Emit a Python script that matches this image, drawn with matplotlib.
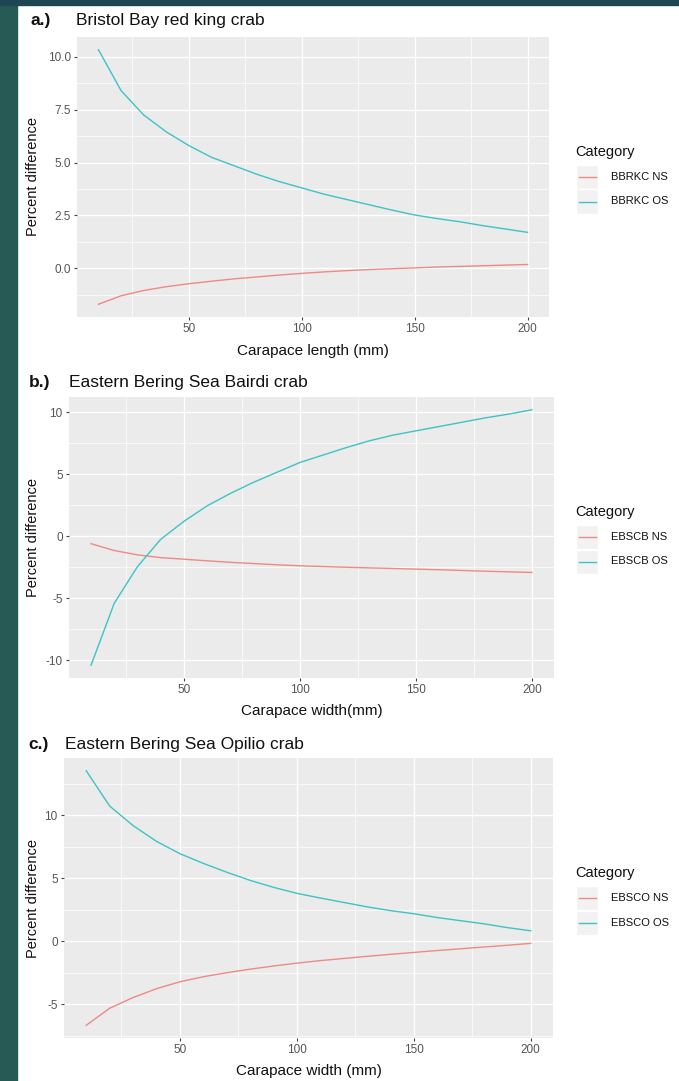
import matplotlib.pyplot as plt
import matplotlib.patches as mp
from matplotlib.lines import Line2D
import numpy as np

plt.rcParams['font.family'] = ['Liberation Sans', 'DejaVu Sans']

# carapace size (mm)
size = [10, 20, 30, 40, 50, 60, 70, 80, 90, 100, 110, 120, 130, 140, 150, 160, 170, 180, 190, 200]

# a.) Bristol Bay red king crab
bbrkc_ns = [-1.7, -1.3, -1.05, -0.87, -0.73, -0.61, -0.5, -0.41, -0.32, -0.24, -0.17, -0.11, -0.06, -0.02, 0.02, 0.06, 0.09, 0.12, 0.15, 0.18]
bbrkc_os = [10.33, 8.4, 7.25, 6.45, 5.8, 5.25, 4.85, 4.45, 4.1, 3.8, 3.5, 3.25, 3.0, 2.75, 2.52, 2.35, 2.2, 2.02, 1.86, 1.7]

# b.) Eastern Bering Sea Bairdi crab
ebscb_ns = [-0.6, -1.15, -1.5, -1.72, -1.85, -1.98, -2.1, -2.2, -2.3, -2.38, -2.44, -2.5, -2.55, -2.6, -2.65, -2.7, -2.76, -2.82, -2.87, -2.92]
ebscb_os = [-10.4, -5.4, -2.45, -0.25, 1.2, 2.45, 3.45, 4.35, 5.15, 5.95, 6.55, 7.15, 7.7, 8.15, 8.5, 8.85, 9.2, 9.55, 9.85, 10.2]

# c.) Eastern Bering Sea Opilio crab
ebsco_ns = [-6.65, -5.3, -4.45, -3.75, -3.2, -2.8, -2.48, -2.2, -1.95, -1.72, -1.52, -1.35, -1.18, -1.02, -0.87, -0.72, -0.58, -0.44, -0.3, -0.15]
ebsco_os = [13.55, 10.75, 9.2, 7.95, 6.97, 6.2, 5.5, 4.85, 4.3, 3.82, 3.45, 3.1, 2.75, 2.45, 2.2, 1.9, 1.65, 1.4, 1.1, 0.85]

W, H = 679, 1081
red, cyan = '#EE8A83', '#3EC3C6'
tcol = '#555555'

fig = plt.figure(figsize=(W / 100, H / 100), dpi=100, facecolor='white')

# slide background bits
fig.patches.append(mp.Rectangle((0, 0), 17 / W, 1, transform=fig.transFigure, color='#275955', zorder=-5))
fig.patches.append(mp.Rectangle((0, 1 - 5 / H), 1, 5 / H, transform=fig.transFigure, color='#1e4652', zorder=-5))


def fx(px):
    return px / W


def fy(py):
    return 1 - py / H


panels = [
    dict(tag='a.)', title='Bristol Bay red king crab', ns=bbrkc_ns, os=bbrkc_os,
         names=['BBRKC NS', 'BBRKC OS'], xlabel='Carapace length (mm)',
         box=(77, 37, 549, 317), yticks=[0, 2.5, 5, 7.5, 10], yfmt='%.1f',
         tagx=30, titlex=76, titley=20, xly=351, leg=152),
    dict(tag='b.)', title='Eastern Bering Sea Bairdi crab', ns=ebscb_ns, os=ebscb_os,
         names=['EBSCB NS', 'EBSCB OS'], xlabel='Carapace width(mm)',
         box=(69, 397, 554, 678), yticks=[-10, -5, 0, 5, 10], yfmt='%d',
         tagx=29, titlex=69, titley=382, xly=711, leg=512),
    dict(tag='c.)', title='Eastern Bering Sea Opilio crab', ns=ebsco_ns, os=ebsco_os,
         names=['EBSCO NS', 'EBSCO OS'], xlabel='Carapace width (mm)',
         box=(64, 758, 553, 1038), yticks=[-5, 0, 5, 10], yfmt='%d',
         tagx=28, titlex=65, titley=745, xly=1071, leg=873),
]

for p in panels:
    l, t, r, b = p['box']
    ax = fig.add_axes([fx(l), fy(b), (r - l) / W, (b - t) / H])
    ax.set_facecolor('#EBEBEB')
    for s in ax.spines.values():
        s.set_visible(False)

    allv = np.array(p['ns'] + p['os'])
    lo, hi = allv.min(), allv.max()
    pad = 0.05 * (hi - lo)
    ax.set_xlim(10 - 9.5, 200 + 9.5)

    ax.set_xticks([50, 100, 150, 200])
    ax.set_xticks([25, 75, 125, 175], minor=True)
    yt = p['yticks']
    step = yt[1] - yt[0]
    ax.set_yticks(yt)
    ax.set_yticklabels([p['yfmt'] % v for v in yt])
    ax.set_yticks(np.arange(yt[0] - step / 2, hi + pad, step), minor=True)
    ax.set_ylim(lo - pad, hi + pad)
    ax.grid(which='major', color='white', linewidth=1.0)
    ax.grid(which='minor', color='white', linewidth=0.5)
    ax.set_axisbelow(True)
    ax.tick_params(which='major', length=2.5, width=0.8, color='#444444',
                   labelcolor=tcol, labelsize=8.5, pad=2)
    ax.tick_params(which='minor', length=0)

    ax.plot(size, p['ns'], color=red, linewidth=1.0)
    ax.plot(size, p['os'], color=cyan, linewidth=1.0)

    fig.text(fx(p['tagx']), fy(p['titley']), p['tag'], fontsize=12.5, fontweight='bold',
             va='center', ha='left', color='#111111')
    fig.text(fx(p['titlex']), fy(p['titley']), p['title'], fontsize=12.5,
             va='center', ha='left', color='#111111')
    fig.text(fx((l + r) / 2), fy(p['xly']), p['xlabel'], fontsize=11,
             va='center', ha='center', color='#111111')
    fig.text(fx(33), fy((t + b) / 2), 'Percent difference', fontsize=10.5,
             rotation=90, va='center', ha='center', color='#111111')

    # legend
    ly = p['leg']
    fig.text(fx(575), fy(ly), 'Category', fontsize=10.5, va='center', ha='left', color='#111111')
    for k, (nm, c) in enumerate(zip(p['names'], [red, cyan])):
        cy = ly + 25 + 24.5 * k
        fig.patches.append(mp.Rectangle((fx(576), fy(cy + 12)), 22 / W, 24 / H,
                                        transform=fig.transFigure, facecolor='#F2F2F2',
                                        edgecolor='white', linewidth=1))
        fig.lines.append(Line2D([fx(579), fx(596)], [fy(cy), fy(cy)],
                                transform=fig.transFigure, color=c, linewidth=1.0))
        fig.text(fx(611), fy(cy), nm, fontsize=8, va='center', ha='left', color='#111111')

plt.savefig('out.png', dpi=100)
